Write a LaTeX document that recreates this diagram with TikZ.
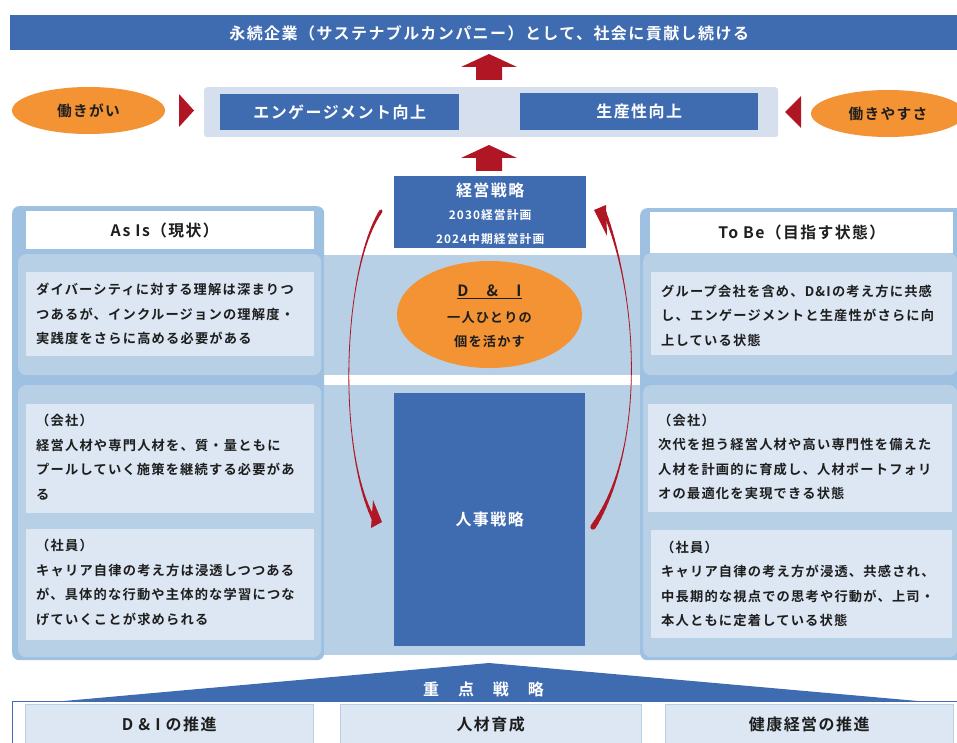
\documentclass[tikz,border=0pt]{standalone}
\usepackage{fontspec}
\setmainfont{Noto Sans CJK JP}
\newfontfamily\jp[LetterSpace=9,BoldFont={Noto Sans CJK JP Bold}]{Noto Sans CJK JP}
\usetikzlibrary{arrows.meta,shapes.geometric}
\definecolor{bluemain}{HTML}{3F6BB0}
\definecolor{panelrim}{HTML}{9FC1E1}
\definecolor{panelfill}{HTML}{B8D0E6}
\definecolor{lightbox}{HTML}{DCE7F3}
\definecolor{paleback}{HTML}{D6DFEE}
\definecolor{orangefill}{HTML}{F39333}
\definecolor{redarrow}{HTML}{B01623}
\definecolor{ink}{HTML}{1E1E1E}
\newcommand\fs[1]{\jp\bfseries\fontsize{#1}{24.5}\selectfont}
\newcommand\bx[7]{\pgfmathsetmacro\w{#4-#2}\pgfmathsetmacro\h{#5-#3}%
  \node[inner sep=0pt,anchor=north west,minimum width=\w pt,minimum height=\h pt,#6] (#1) at (#2,#3) {#7};}
% body box: name, corners, upward text shift, text
\newcommand\bt[7]{\bx{#1}{#2}{#3}{#4}{#5}{fill=lightbox}{}%
  \node[bodytext,anchor=west] (#1-t) at ([xshift=10pt,yshift=#6pt]#1.west) {#7};}
% tapered curve: start, control, control, end, flare at start, flare at end
\newcommand\taper[6]{%
  \foreach \i in {0,...,47}{%
    \pgfmathsetmacro\tpa{\i/48}\pgfmathsetmacro\tpb{(\i+1)/48}%
    \pgfmathsetmacro\tpw{0.8+#5*max(0,1-\tpa/0.35)^2+#6*max(0,(\tpa-0.65)/0.35)^2}%
    \path (#1) .. controls (#2) and (#3) .. (#4) coordinate[pos=\tpa] (pa) coordinate[pos=\tpb] (pb);
    \draw[redarrow,line width=\tpw pt,line cap=round] (pa) -- (pb);
  }}
\tikzset{
  bluebox/.style={fill=bluemain,text=white,align=center},
  whitebox/.style={fill=white,text=ink,align=center},
  lightb/.style={fill=lightbox,text=ink,align=center},
  bodytext/.style={text=ink,align=left,inner sep=0pt,font=\fs{13.25}},
  whitetext/.style={text=white,align=center,inner sep=0pt},
  panel/.style={fill=panelrim,rounded corners=7pt},
  subpanel/.style={fill=panelfill,rounded corners=8pt},
  oval/.style={ellipse,fill=orangefill,text=ink,inner sep=0pt,align=center},
  blockup/.style={fill=redarrow},
}
\begin{document}
\begin{tikzpicture}[x=1pt,y=-1pt]
\useasboundingbox (0,0) rectangle (957,743);
\clip (0,0) rectangle (957,743);
% central band
\fill[panelfill] (320,255) rectangle (645,375);
\fill[panelfill] (320,385) rectangle (645,655);
% top
\bx{goal}{10}{15}{957}{50}{bluebox}{}
\node[whitetext,font=\fs{16}] (goal-t) at ([xshift=5.5pt,yshift=-1pt]goal.center) {永続企業（サステナブルカンパニー）として、社会に貢献し続ける};
\bx{pale}{204}{87}{778}{137}{fill=paleback,rounded corners=3pt}{}
\bx{eng}{220}{94}{459}{130}{bluebox,font=\fs{16}}{エンゲージメント向上}
\bx{prod}{520}{93}{758}{130}{bluebox,font=\fs{16}}{生産性向上}
\node[oval,minimum width=153pt,minimum height=47pt,font=\fs{14.7}] (yari) at (88.5,110.5) {働きがい};
\node[oval,minimum width=154pt,minimum height=47pt,font=\fs{14.7}] (yasu) at (888,113.5) {働きやすさ};
\coordinate (tl) at (179,94);
\fill[redarrow] (tl) -- (194,110.5) -- (179,127) -- cycle;
\coordinate (tr) at (801,96);
\fill[redarrow] (tr) -- (785,112) -- (801,128) -- cycle;
\fill[blockup] (489,54) -- (517,67) -- (502,67) -- (502,80) -- (476,80) -- (476,67) -- (461,67) -- cycle;
\fill[blockup] (489,145) -- (517,158) -- (502,158) -- (502,171) -- (476,171) -- (476,158) -- (461,158) -- cycle;
% left panel
\bx{leftp}{12}{206}{324}{660}{panel}{}
\bx{asis}{26}{211}{314}{249}{whitebox}{}
\node[text=ink,inner sep=0pt,font=\fs{15.8}] (asis-t) at ([xshift=-5.5pt]asis.center) {As Is（現状）};
\bx{leftup}{18}{254}{321}{375}{subpanel}{}
\bx{leftlow}{18}{385}{321}{657}{subpanel}{}
\bt{l1}{26}{272}{314}{356}{0}{ダイバーシティに対する理解は深まりつ\\つあるが、インクルージョンの理解度・\\実践度をさらに高める必要がある}
\bt{l2}{26}{404}{314}{513}{1.5}{（会社）\\経営人材や専門人材を、質・量ともに\\プールしていく施策を継続する必要があ\\る}
\bt{l3}{26}{529}{314}{640}{2.5}{（社員）\\キャリア自律の考え方は浸透しつつある\\が、具体的な行動や主体的な学習につな\\げていくことが求められる}
% right panel
\bx{rightp}{640}{208}{965}{660}{panel}{}
\bx{tobe}{650}{212}{953}{253}{whitebox,font=\fs{15.8}}{To Be（目指す状態）}
\bx{rightup}{643}{253}{957}{375}{subpanel}{}
\bx{rightlow}{643}{385}{957}{657}{subpanel}{}
\bt{r1}{651}{272}{952}{355}{-2}{グループ会社を含め、D\&Iの考え方に共感\\し、エンゲージメントと生産性がさらに向\\上している状態}
\bt{r2}{648}{404}{952}{512}{1.5}{（会社）\\次代を担う経営人材や高い専門性を備えた\\人材を計画的に育成し、人材ポートフォリ\\オの最適化を実現できる状態}
\bt{r3}{651}{530}{952}{638}{0.5}{（社員）\\キャリア自律の考え方が浸透、共感され、\\中長期的な視点での思考や行動が、上司・\\本人ともに定着している状態}
% centre
\bx{mgmt}{394}{176}{586}{248}{bluebox}{}
\node[whitetext,font=\fs{11.8}] (mgmt-t) at ([yshift=-2pt]mgmt.center) {{\fontsize{16}{24.5}\selectfont 経営戦略}\\[-2pt]2030経営計画\\2024中期経営計画};
\node[oval,minimum width=185pt,minimum height=107pt] (di) at (489.5,314.5) {};
\node[text=ink,align=center,inner sep=0pt,font=\fs{13.2}] (di-t) at ([yshift=-2pt]di.center) {{\fontsize{15.5}{24.5}\selectfont\underline{D　\&　I}}\\[1.5pt]一人ひとりの\\個を活かす};
\bx{hr}{394}{393}{585}{646}{bluebox,font=\fs{16}}{人事戦略}
% curved arrows
\coordinate (la) at (381,211);
\coordinate (lb) at (374,520);
\coordinate (ra) at (593,527);
\coordinate (rb) at (603,208);
\taper{la}{342,270}{337,450}{lb}{2.5}{3}
\fill[redarrow] (373,500) -- (382,522) -- (371,528) -- cycle;
\taper{ra}{645,450}{640,300}{rb}{4.5}{3}
\fill[redarrow] (594,210) -- (606,205) -- (607,236) -- cycle;
% bottom
\coordinate (outl) at (12,760);
\draw[bluemain,line width=0.8pt] (outl) |- (965,701);
\fill[bluemain] (64,701) -- (489,663) -- (918,701) -- cycle;
\node[text=white,font=\fs{16}] (key) at (483.5,689) {重　点　戦　略};
\bx{k1}{25}{704}{313}{744}{lightb,draw=panelfill,font=\fs{16}}{D \& I の推進}
\bx{k2}{340}{704}{641}{744}{lightb,draw=panelfill,font=\fs{16}}{人材育成}
\bx{k3}{665}{704}{953}{744}{lightb,draw=panelfill,font=\fs{16}}{健康経営の推進}
\end{tikzpicture}
\end{document}
